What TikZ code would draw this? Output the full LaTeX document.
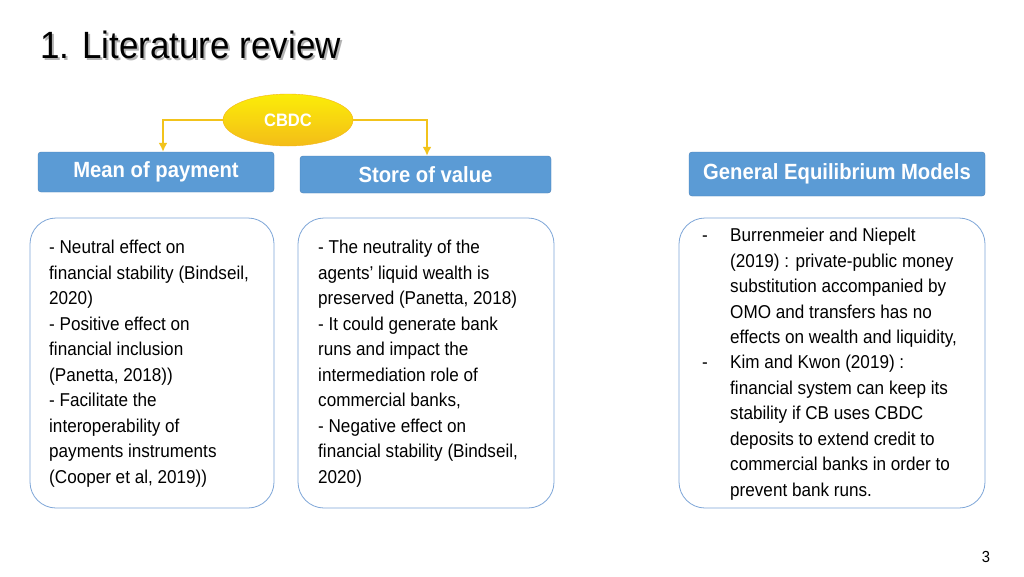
\documentclass[tikz,border=0pt]{standalone}
\usepackage{fontspec}
\setmainfont[FakeStretch=0.92]{Liberation Sans}
\usetikzlibrary{shapes.geometric,arrows.meta}
\definecolor{hdblue}{HTML}{5B9BD5}
\definecolor{hdedge}{HTML}{4A80B8}
\definecolor{boxedge}{HTML}{7EA6D8}
\definecolor{gold}{HTML}{F2C31B}
\tikzset{
  header/.style={draw=hdedge, fill=hdblue, text=white, rounded corners=3pt, font=\fontsize{22}{24}\selectfont\bfseries, inner sep=0pt},
  listbox/.style={draw=boxedge, rounded corners=26pt, line width=0.8pt},
  listtext/.style={anchor=north west, align=left, inner sep=0pt, font=\fontsize{18.6}{25.5}\selectfont},
  flow/.style={gold, line width=2.2pt, -{Latex[length=9pt,width=9pt]}}
}
\begin{document}
\begin{tikzpicture}[x=1pt,y=-1pt]
% Background
\fill[white] (0,0) rectangle (1024,576);

% Title
\node[anchor=west, inner sep=0pt, font=\fontsize{38}{40}\selectfont, text=gray!60] (shadow) at (42,47) {1. Literature review};
\node[anchor=west, inner sep=0pt, font=\fontsize{38}{40}\selectfont] (title) at (40,45) {1. Literature review};

% Root
\node[ellipse, minimum width=130pt, minimum height=52pt, draw=gold!80!orange, top color=yellow!70!gold, bottom color=gold!90!orange, text=white, font=\fontsize{18}{20}\selectfont\bfseries] (cbdc) at (288,120) {CBDC};

% Headers
\node[header, minimum width=236pt, minimum height=40pt] (pay) at (156,172) {Mean of payment};
\node[header, minimum width=251pt, minimum height=37pt] (store) at (425.5,174.5) {Store of value};
\node[header, minimum width=296pt, minimum height=44pt] (gem) at (837,174) {General Equilibrium Models};

% Arrows
\draw[flow] (cbdc.west) -| (pay.north -| 163,0);
\draw[flow] (cbdc.east) -| (store.north -| 427,0);

% Lists
\draw[listbox] (30,218) rectangle (274,508);
\draw[listbox] (298,218) rectangle (554,508);
\draw[listbox] (679,218) rectangle (985,508);

\node[listtext] (paytext) at (49,240) {- Neutral effect on\\financial stability (Bindseil,\\2020)\\- Positive effect on\\financial inclusion\\(Panetta, 2018))\\- Facilitate the\\interoperability of\\payments instruments\\(Cooper et al, 2019))};
\node[listtext] (storetext) at (318,240) {- The neutrality of the\\agents' liquid wealth is\\preserved (Panetta, 2018)\\- It could generate bank\\runs and impact the\\intermediation role of\\commercial banks,\\- Negative effect on\\financial stability (Bindseil,\\2020)};
\node[listtext] (dashA) at (702,228) {-\vphantom{Bb}};
\node[listtext] (gemA) at (730,228) {Burrenmeier and Niepelt\\(2019) : private-public money\\substitution accompanied by\\OMO and transfers has no\\effects on wealth and liquidity,};
\node[listtext] (dashB) at (702,355) {-\vphantom{Bb}};
\node[listtext] (gemB) at (730,355) {Kim and Kwon (2019) :\\financial system can keep its\\stability if CB uses CBDC\\deposits to extend credit to\\commercial banks in order to\\prevent bank runs.};

% Page number
\node[font=\fontsize{16}{18}\selectfont] (page) at (986,557) {3};
\end{tikzpicture}
\end{document}
